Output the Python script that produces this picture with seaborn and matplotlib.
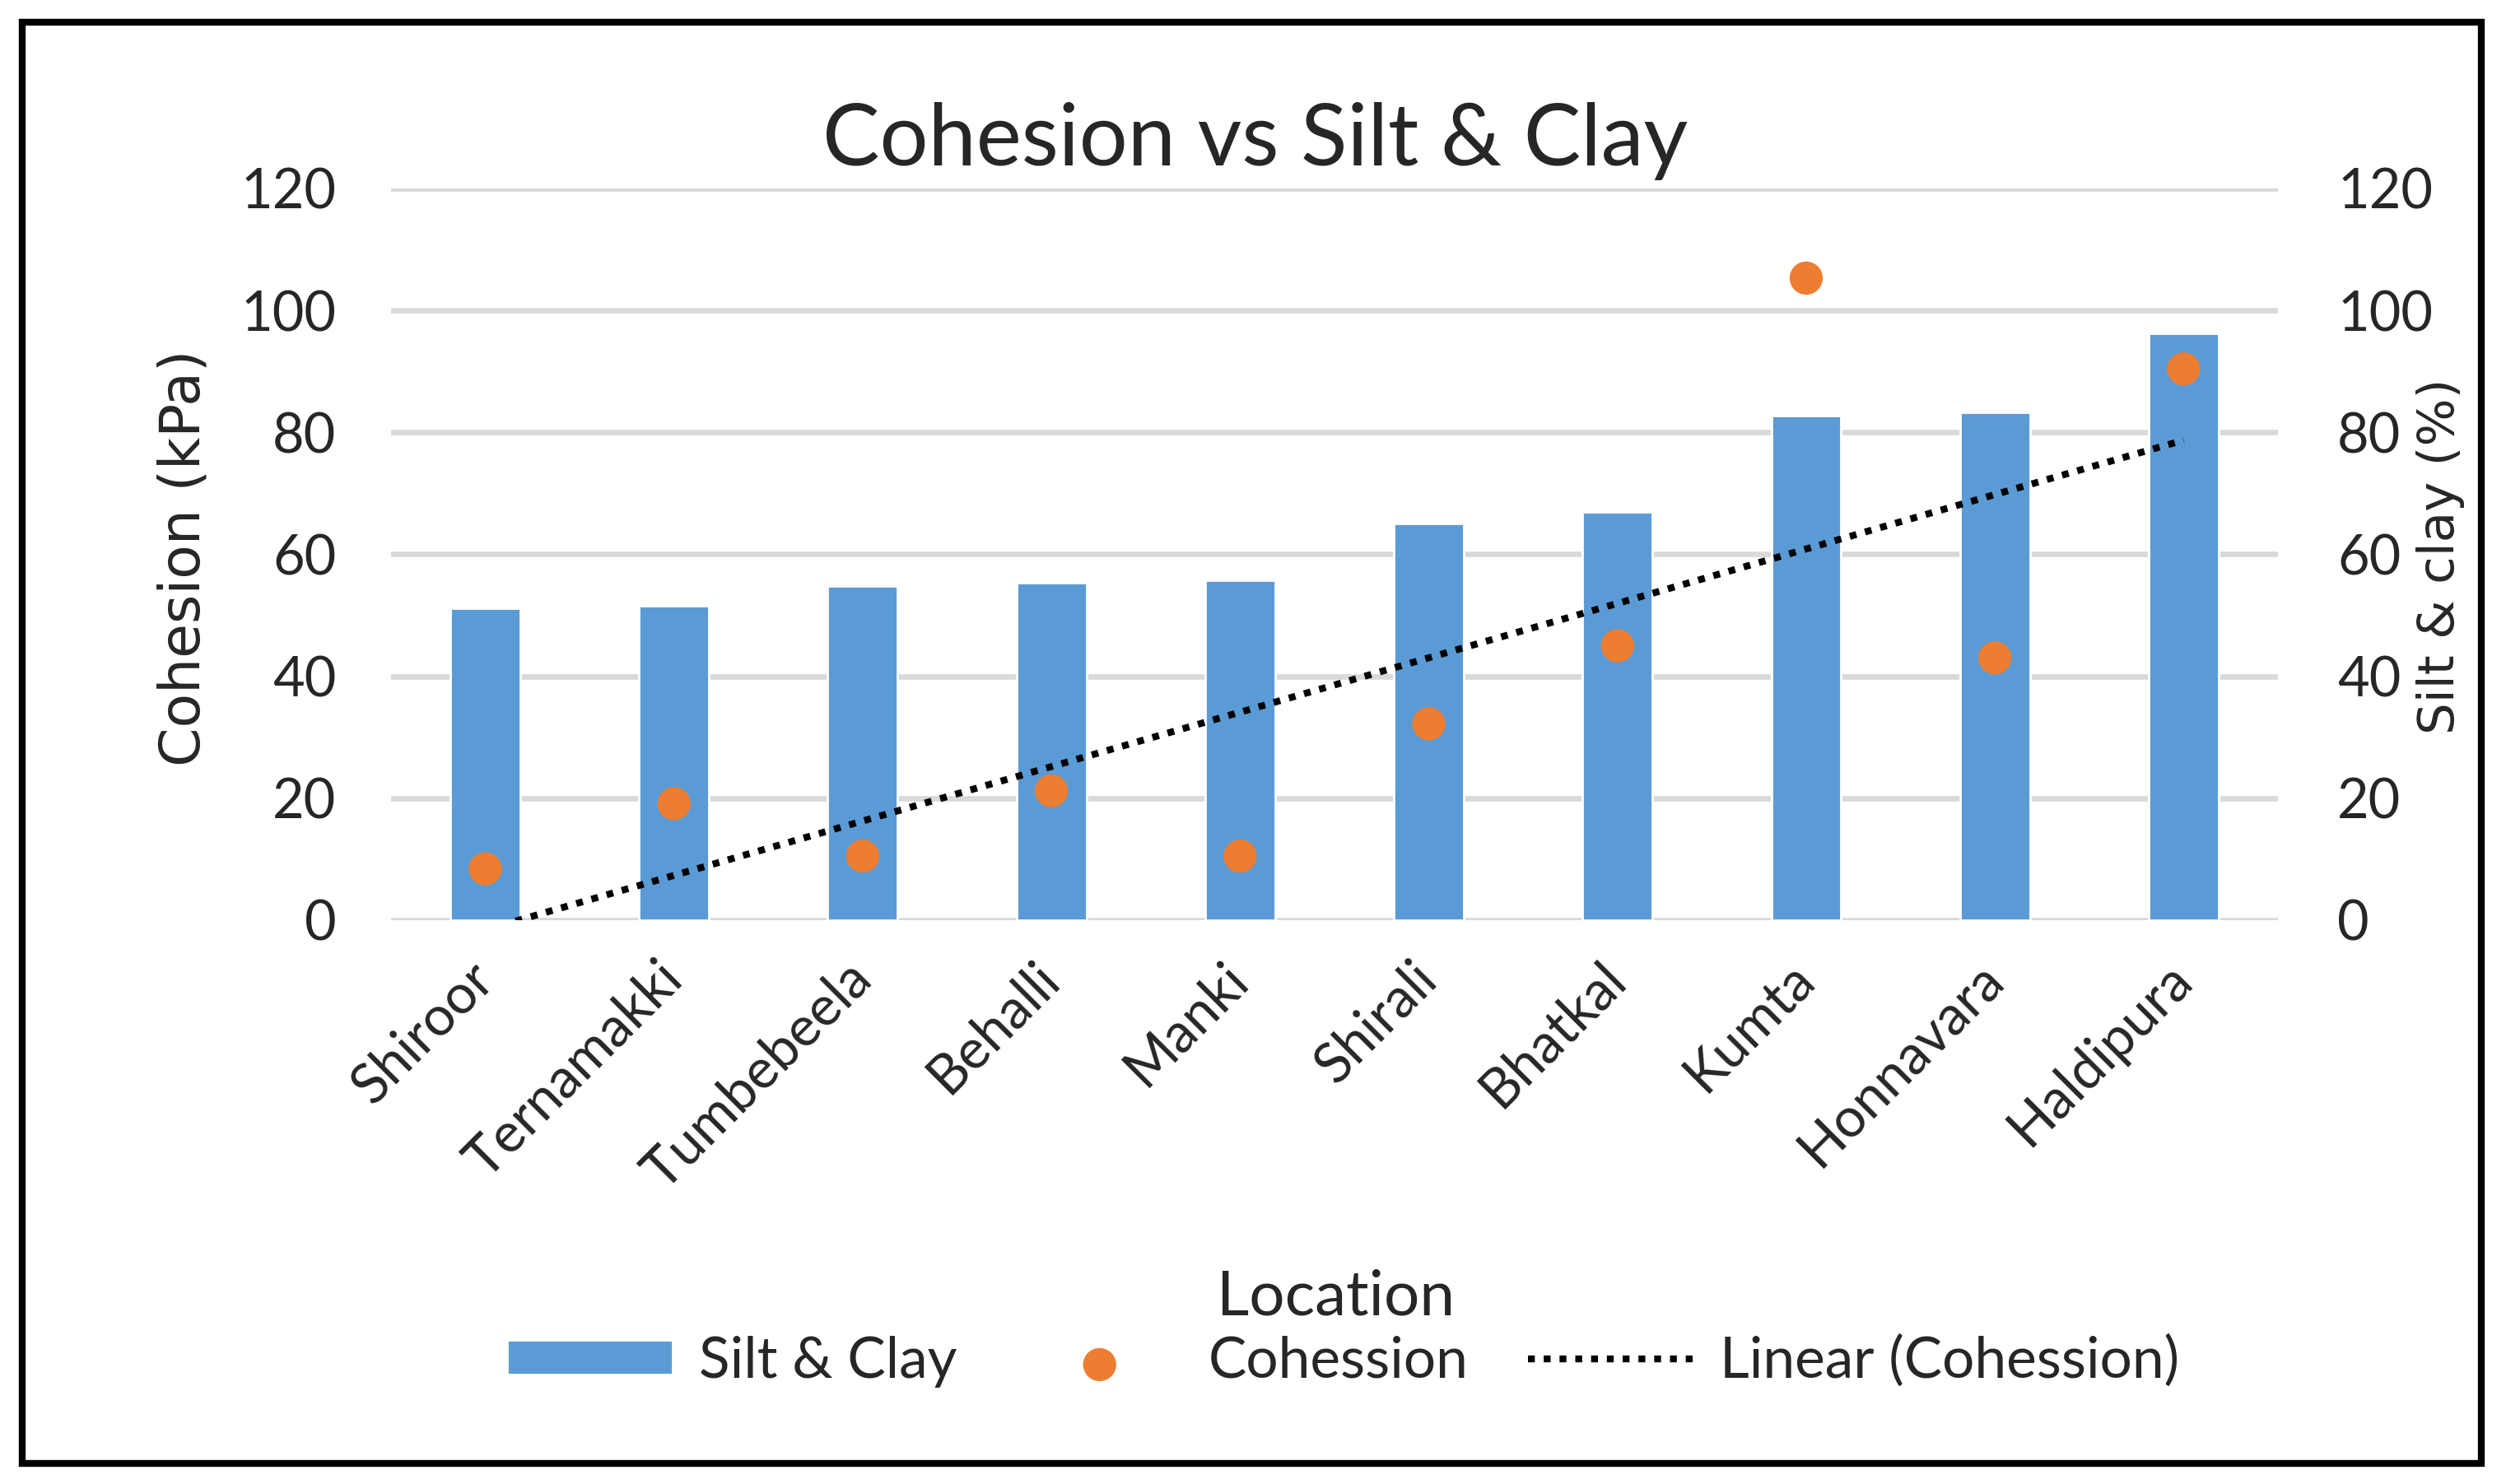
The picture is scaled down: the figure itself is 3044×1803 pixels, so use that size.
import numpy as np
import seaborn as sns
import matplotlib.pyplot as plt
from matplotlib.patches import Rectangle

# data
locations = ['Shiroor', 'Ternamakki', 'Tumbebeela', 'Behalli', 'Manki',
             'Shirali', 'Bhatkal', 'Kumta', 'Honnavara', 'Haldipura']
silt_clay = [51.1, 51.6, 54.8, 55.3, 55.8, 65.0, 67.0, 82.8, 83.3, 96.2]
cohesion = [8.4, 19.1, 10.5, 21.2, 10.5, 32.2, 45.0, 105.3, 43.0, 90.4]
yticks = [0, 20, 40, 60, 80, 100, 120]

sns.set_style('white')
plt.rcParams['font.family'] = ['Lato', 'DejaVu Sans']

blue = '#5B9BD5'
orange = '#ED7D31'
grid_c = '#D9D9D9'

fig = plt.figure(figsize=(15.22, 9.015), dpi=200)
ax = fig.add_axes([0.156, 0.380, 0.753, 0.493])
ax2 = ax.twinx()

# bars on the secondary (right) axis, drawn underneath
sns.barplot(x=locations, y=silt_clay, ax=ax2, color=blue, saturation=1,
            width=0.37, label='Silt & Clay', legend=False)

# cohesion points + linear trend on the primary axis
xpos = np.arange(len(locations))
sns.scatterplot(x=xpos, y=cohesion, ax=ax, color=orange, s=210,
                edgecolor='none', label='Cohession', legend=False, zorder=5)
coef = np.polyfit(xpos + 1, cohesion, 1)
trend = np.polyval(coef, xpos + 1)
sns.lineplot(x=xpos, y=trend, ax=ax, color='black', lw=3,
             linestyle=(0, (1, 1.3)), label='Linear (Cohession)', legend=False)

ax.set_zorder(ax2.get_zorder() + 1)
ax.patch.set_visible(False)
ax2.set_axisbelow(True)

for a in (ax, ax2):
    a.set_ylim(0, 120)
    a.set_yticks(yticks)
    a.set_xlim(-0.5, len(locations) - 0.5)
    a.set_xlabel('')
    a.set_ylabel('')
    for s in a.spines.values():
        s.set_visible(False)
    if a.get_legend():
        a.get_legend().remove()

ax.grid(False)
ax2.grid(axis='y', color=grid_c, lw=2.4)
ax2.grid(axis='x', visible=False)

ax.tick_params(axis='both', length=0, labelsize=24)
ax2.tick_params(axis='y', length=0, labelsize=24, pad=26)
ax.tick_params(axis='y', pad=24)
ax.tick_params(axis='x', pad=22)
ax.set_xticks(xpos)
ax.set_xticklabels(locations, rotation=45, ha='right', va='center', rotation_mode='anchor')

# axis titles
fig.text(0.0733, 0.624, 'Cohesion (kPa)', family='DejaVu Sans', fontsize=24.5,
         rotation=90, ha='center', va='center')
fig.text(0.974, 0.625, 'Silt & clay (%)', family='DejaVu Sans', fontsize=22,
         rotation=90, ha='center', va='center')

fig.text(0.501, 0.905, 'Cohesion vs Silt & Clay', ha='center', va='center', fontsize=37.5)
fig.text(0.533, 0.126, 'Location', ha='center', va='center', fontsize=27.5)

h1, l1 = ax2.get_legend_handles_labels()
h2, l2 = ax.get_legend_handles_labels()
fig.legend(h1 + h2, l1 + l2, loc='center', bbox_to_anchor=(0.536, 0.083), ncol=3,
           frameon=False, fontsize=25, handlelength=2.9, handleheight=0.55,
           handletextpad=0.45, columnspacing=1.05, scatterpoints=1)

fig.patches.append(Rectangle((0.009, 0.014), 0.981, 0.971, transform=fig.transFigure,
                             fill=False, ec='black', lw=3))

plt.savefig('out.png', dpi=200)
